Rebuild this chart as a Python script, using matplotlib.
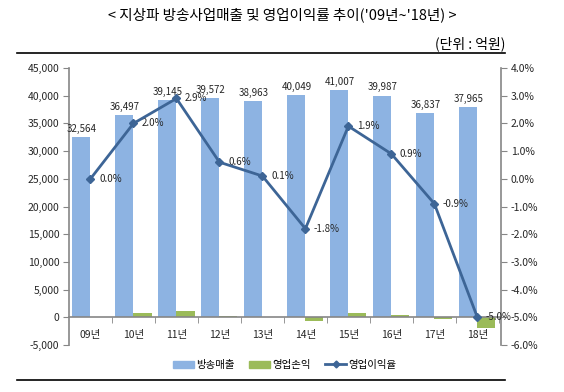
import numpy as np
import matplotlib.pyplot as plt
from matplotlib.lines import Line2D
from matplotlib.patches import Patch
from matplotlib.ticker import FuncFormatter, FixedLocator

plt.rcParams['font.family'] = ['Noto Sans CJK KR', 'DejaVu Sans']

years = ['09년', '10년', '11년', '12년', '13년', '14년', '15년', '16년', '17년', '18년']
sales = [32564, 36497, 39145, 39572, 38963, 40049, 41007, 39987, 36837, 37965]
op_income = [0, 730, 1135, 237, 39, -721, 779, 360, -332, -1898]
op_margin = [0.0, 2.0, 2.9, 0.6, 0.1, -1.8, 1.9, 0.9, -0.9, -5.0]

blue = '#8db3e2'
green = '#9bbb59'
line_c = '#3d6596'
spine_c = '#868686'
txt_c = '#262626'

fig = plt.figure(figsize=(5.64, 3.92), dpi=100)
ax = fig.add_axes([0.1223, 0.1199, 0.766, 0.7066])
ax2 = ax.twinx()

x = np.arange(len(years))
w = 0.42
ax.bar(x - w / 2, sales, width=w, color=blue, zorder=2)
ax.bar(x + w / 2, op_income, width=w, color=green, zorder=2)

# sales labels above blue bars
for xi, v in zip(x, sales):
    ax.text(xi - w / 2, v + 600, f'{v:,}', ha='center', va='bottom', fontsize=7, color=txt_c)

ax.set_xlim(-0.5, 9.55)
ax.set_ylim(-5000, 45000)
ax.set_yticks(np.arange(-5000, 45001, 5000))
ax.yaxis.set_major_formatter(FuncFormatter(lambda v, p: f'{int(v):,}'))

ax.spines['top'].set_visible(False)
ax.spines['right'].set_visible(False)
ax.spines['bottom'].set_position(('data', 0))
for s in ['left', 'bottom']:
    ax.spines[s].set_color(spine_c)
    ax.spines[s].set_linewidth(1.2)

ax.set_xticks(x)
ax.set_xticklabels(years)
ax.tick_params(axis='x', length=0, pad=9, labelsize=7.5, labelcolor=txt_c)
ax.xaxis.set_minor_locator(FixedLocator(np.arange(0.5, 9.6, 1.0)))
ax.tick_params(axis='x', which='minor', length=4, color=spine_c)
ax.tick_params(axis='y', length=4, color=spine_c, labelsize=7.5, labelcolor=txt_c, pad=3)

# operating margin line on right axis
ax2.plot(x, op_margin, color=line_c, lw=2, marker='D', ms=4, zorder=5)
for xi, v in zip(x, op_margin):
    ax2.text(xi + 0.2, v, f'{v:.1f}%', ha='left', va='center', fontsize=7, color=txt_c)

ax2.set_ylim(-6, 4)
ax2.set_yticks(np.arange(-6, 4.01, 1))
ax2.yaxis.set_major_formatter(FuncFormatter(lambda v, p: f'{v:.1f}%'))
ax2.spines['top'].set_visible(False)
ax2.spines['left'].set_visible(False)
ax2.spines['bottom'].set_visible(False)
ax2.spines['right'].set_color(spine_c)
ax2.spines['right'].set_linewidth(1.2)
ax2.tick_params(axis='y', length=4, color=spine_c, labelsize=7.5, labelcolor=txt_c, pad=3)

# title and unit
fig.text(0.5, 0.962, "< 지상파 방송사업매출 및 영업이익률 추이('09년~'18년) >",
         ha='center', va='center', fontsize=10.5, color='black')
fig.text(0.896, 0.888, '(단위 : 억원)', ha='right', va='center', fontsize=10, color='black')
fig.add_artist(Line2D([0.03, 0.896], [0.865, 0.865], color='black', lw=1.2))
fig.add_artist(Line2D([0.03, 0.896], [0.031, 0.031], color='black', lw=1.2))

handles = [Patch(color=blue), Patch(color=green),
           Line2D([], [], color=line_c, lw=2, marker='D', ms=3.5)]
fig.legend(handles, ['방송매출', '영업손익', '영업이익율'], loc='center',
           bbox_to_anchor=(0.505, 0.069), ncol=3, frameon=False, fontsize=7.5,
           handlelength=2.0, handleheight=0.6, handletextpad=0.2, columnspacing=1.4)

fig.savefig('out.png', dpi=100)
